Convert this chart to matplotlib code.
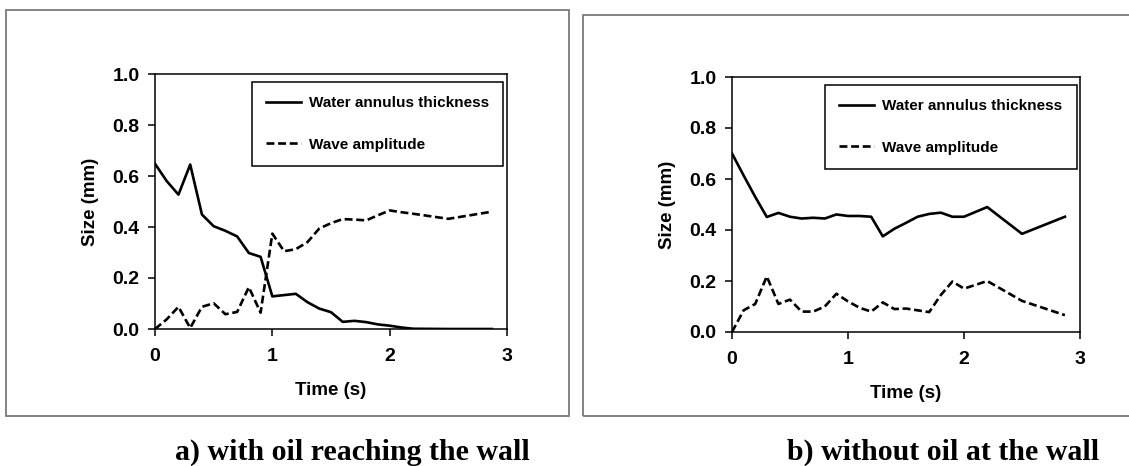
import matplotlib
matplotlib.use("Agg")
import matplotlib.pyplot as plt
from matplotlib.patches import Rectangle

plt.rcParams['font.family'] = ['Liberation Sans', 'DejaVu Sans']
plt.rcParams['font.weight'] = 'bold'

# panel a) with oil reaching the wall
time_a = [0.0, 0.1, 0.2, 0.3, 0.4, 0.5, 0.6, 0.7, 0.8, 0.9, 1.0, 1.1, 1.2,
          1.3, 1.4, 1.5, 1.6, 1.7, 1.8, 1.9, 2.0, 2.1, 2.2, 2.5, 2.87]
water_a = [0.648, 0.58, 0.527, 0.645, 0.449, 0.403, 0.385, 0.363, 0.298, 0.283,
           0.128, 0.133, 0.138, 0.105, 0.08, 0.066, 0.028, 0.032, 0.027, 0.018,
           0.013, 0.006, 0.001, 0.0, 0.0]
wave_a = [0.0, 0.038, 0.087, 0.004, 0.087, 0.101, 0.058, 0.067, 0.164, 0.064,
          0.374, 0.305, 0.313, 0.341, 0.394, 0.415, 0.431, 0.429, 0.426, 0.446,
          0.465, 0.458, 0.452, 0.432, 0.46]

# panel b) without oil at the wall
time_b = [0.0, 0.1, 0.2, 0.3, 0.4, 0.5, 0.6, 0.7, 0.8, 0.9, 1.0, 1.1, 1.2,
          1.3, 1.4, 1.5, 1.6, 1.7, 1.8, 1.9, 2.0, 2.2, 2.5, 2.87]
water_b = [0.70, 0.614, 0.53, 0.451, 0.467, 0.452, 0.445, 0.448, 0.445, 0.461,
           0.455, 0.455, 0.452, 0.375, 0.405, 0.428, 0.452, 0.463, 0.468, 0.452,
           0.452, 0.49, 0.385, 0.452]
wave_b = [0.0, 0.085, 0.11, 0.218, 0.11, 0.127, 0.08, 0.08, 0.10, 0.15,
          0.12, 0.095, 0.08, 0.116, 0.09, 0.092, 0.085, 0.078, 0.145, 0.198,
          0.17, 0.2, 0.122, 0.066]

captions = ['a) with oil reaching the wall', 'b) without oil at the wall']

fig = plt.figure(figsize=(11.29, 4.66), dpi=100)

# grey frames round each panel (figure pixels -> fractions)
W, H = 1129.0, 466.0
for x0, y0, x1, y1 in [(6, 10, 569, 416), (583, 15, 1135, 416)]:
    fig.patches.append(Rectangle((x0 / W, 1 - y1 / H), (x1 - x0) / W, (y1 - y0) / H,
                                 transform=fig.transFigure, fill=False,
                                 edgecolor='#7a7a7a', linewidth=1.3))

ax_a = fig.add_axes([155 / W, 1 - 329 / H, 352 / W, 255 / H])
ax_b = fig.add_axes([732 / W, 1 - 332 / H, 348 / W, 255 / H])

panels = [(ax_a, time_a, water_a, wave_a), (ax_b, time_b, water_b, wave_b)]
for ax, t, w, a in panels:
    ax.plot(t, w, color='black', lw=1.9, label='Water annulus thickness')
    ax.plot(t, a, color='black', lw=1.9, linestyle=(0, (3, 1.4)), label='Wave amplitude')
    ax.set_xlim(0, 3)
    ax.set_ylim(0, 1)
    ax.set_xticks([0, 1, 2, 3])
    ax.set_yticks([0, 0.2, 0.4, 0.6, 0.8, 1.0])
    ax.set_yticklabels(['0.0', '0.2', '0.4', '0.6', '0.8', '1.0'])
    ax.tick_params(direction='out', length=5, width=1.1, labelsize=14)
    ax.tick_params(axis='x', pad=9)
    ax.tick_params(axis='y', pad=6)
    for lab in ax.get_xticklabels() + ax.get_yticklabels():
        lab.set_fontweight('bold')
    for sp in ax.spines.values():
        sp.set_linewidth(1.1)
    ax.set_xlabel('Time (s)', fontsize=13.5, fontweight='bold', labelpad=12)
    ax.set_ylabel('Size (mm)', fontsize=13.5, fontweight='bold', labelpad=10)
    leg = ax.legend(loc='upper right', bbox_to_anchor=(0.99, 0.97), borderaxespad=0,
                    fancybox=False, edgecolor='black', framealpha=1,
                    prop={'size': 11, 'weight': 'bold'}, handlelength=2.3,
                    handletextpad=0.5, labelspacing=1.8, borderpad=0.95)
    leg.get_frame().set_linewidth(1.1)

fig.text(352 / W, 1 - 452 / H, captions[0], ha='center', va='center',
         family=['Liberation Serif', 'DejaVu Serif'], fontsize=21.5, fontweight='bold')
fig.text(943 / W, 1 - 452 / H, captions[1], ha='center', va='center',
         family=['Liberation Serif', 'DejaVu Serif'], fontsize=21.5, fontweight='bold')

fig.savefig('out.png', dpi=100)
